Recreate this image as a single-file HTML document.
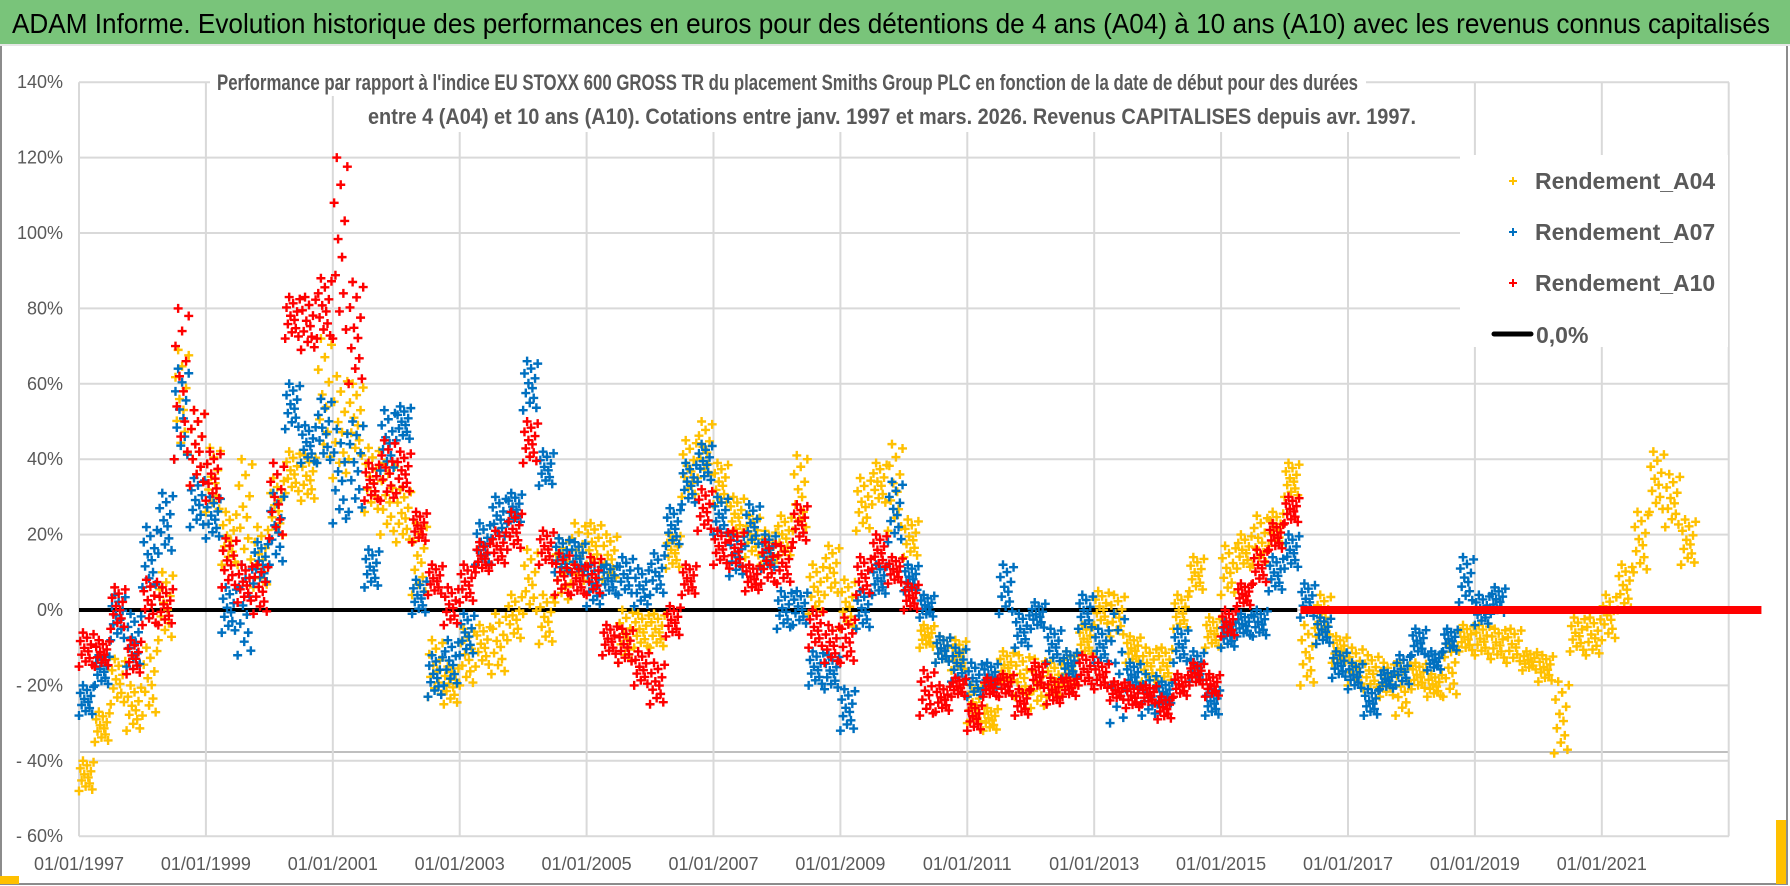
<!DOCTYPE html>
<html><head><meta charset="utf-8"><title>ADAM Informe</title>
<style>
html,body{margin:0;padding:0;background:#fff;}
svg{display:block;}
text{font-family:"Liberation Sans Narrow","Liberation Sans",sans-serif;}
</style></head>
<body>
<svg id="chart" width="1790" height="886" viewBox="0 0 1790 886" xmlns="http://www.w3.org/2000/svg">
  <rect x="0" y="0" width="1790" height="886" fill="#ffffff"/>
  <rect x="1" y="44" width="1786" height="840" fill="none" stroke="#8c8c8c" stroke-width="2"/>
  <rect x="0" y="0" width="1790" height="44" fill="#79c47a"/>
  <line x1="0" y1="45" x2="1790" y2="45" stroke="#e6e6e6" stroke-width="2"/>
  <text x="12" y="33" font-size="28" fill="#000" textLength="1758" lengthAdjust="spacingAndGlyphs">ADAM Informe. Evolution historique des performances en euros pour des détentions de 4 ans (A04) à 10 ans (A10) avec les revenus connus capitalisés</text>
  <rect x="0" y="876" width="19" height="8" fill="#ffc000"/>
  <rect x="1776" y="820" width="10" height="64" fill="#ffc000"/>
  <g id="grid"></g>
  <g id="yaxis"></g>
  <g id="xaxis"></g>
  <rect x="210" y="62" width="1156" height="34" fill="#fff"/>
  <rect x="360" y="96" width="1066" height="36" fill="#fff"/>
  <text x="217" y="90" font-size="22" font-weight="bold" fill="#595959" textLength="1141" lengthAdjust="spacingAndGlyphs">Performance par rapport à l'indice EU STOXX 600 GROSS TR  du placement Smiths Group PLC en fonction de la date de début pour des durées</text>
  <text x="368" y="124" font-size="22" font-weight="bold" fill="#595959" textLength="1048" lengthAdjust="spacingAndGlyphs">entre 4 (A04) et 10 ans (A10).  Cotations entre janv. 1997 et mars. 2026. Revenus CAPITALISES depuis avr. 1997.</text>
  <g id="zero"></g>
  <g id="marks"></g>
  <g id="legend">
    <rect x="1460" y="155" width="268" height="192" fill="#fff"/>
    <g>
      <path d="M1509 181h8M1513 177v8" stroke="#ffc000" stroke-width="2"/>
      <text x="1535" y="189" font-size="23" font-weight="bold" fill="#595959">Rendement_A04</text>
    </g>
    <g>
      <path d="M1509 232h8M1513 228v8" stroke="#0070c0" stroke-width="2"/>
      <text x="1535" y="240" font-size="23" font-weight="bold" fill="#595959">Rendement_A07</text>
    </g>
    <g>
      <path d="M1509 283h8M1513 279v8" stroke="#ff0000" stroke-width="2"/>
      <text x="1535" y="291" font-size="23" font-weight="bold" fill="#595959">Rendement_A10</text>
    </g>
    <g>
      <line x1="1494" y1="334" x2="1531" y2="334" stroke="#000" stroke-width="5" stroke-linecap="round"/>
      <text x="1536" y="343" font-size="23" font-weight="bold" fill="#595959">0,0%</text>
    </g>
  </g>
</svg>
<script>
const startYear = 1997;
const stepYear = 0.25;
const yTicks = [140,120,100,80,60,40,20,0,-20,-40,-60];
const yTickLabels = ["140%","120%","100%","80%","60%","40%","20%","0%","- 20%","- 40%","- 60%"];
const xTicks = [1997,1999,2001,2003,2005,2007,2009,2011,2013,2015,2017,2019,2021];
const xTickLabels = ["01/01/1997","01/01/1999","01/01/2001","01/01/2003","01/01/2005","01/01/2007","01/01/2009","01/01/2011","01/01/2013","01/01/2015","01/01/2017","01/01/2019","01/01/2021"];
const zeroLineRange = [1997, 2016.2];
const a04Hi = [-40,-27,-13,-20,-10,10,69,53,43,26,40,22,35,42,41,72,62,60,43,39,32,23,-8,-15,-5,-4,-1,4,16,4,19,23,23,20,0,-1,-1,20,45,50,39,30,25,21,25,41,12,17,8,35,39,44,24,-4,-7,-8,-20,-26,-11,-12,-13,-14,-11,-4,5,4,-7,-10,-10,4,14,-2,17,20,25,26,39,-4,4,-7,-10,-12,-14,-14,-14,-17,-9,-4,-4,-5,-5,-11,-12,-19,-2,-2,4,12,26,42,36,24];
const a04Lo = [-48,-35,-25,-32,-28,-8,40,33,26,12,12,6,19,31,29,39,35,40,26,20,18,4,-23,-25,-20,-15,-17,-8,-1,-9,2,7,12,8,-14,-10,-10,11,30,35,28,20,14,12,14,21,-1,4,-5,21,28,21,14,-10,-14,-16,-30,-32,-19,-23,-26,-23,-20,-12,-4,-7,-14,-19,-19,-5,5,-10,4,11,12,17,30,-20,-7,-14,-20,-21,-23,-28,-21,-23,-23,-11,-12,-13,-14,-16,-19,-38,-11,-12,-8,0,10,26,22,12];
const a07Hi = [-20,-12,4,-1,22,31,64,35,30,6,12,18,31,60,49,56,48,50,16,53,54,8,-12,-8,-1,23,30,31,66,42,19,18,12,12,14,11,15,27,39,44,30,20,28,20,5,5,-11,-12,-21,5,12,34,12,4,-7,-10,-14,-14,12,-1,2,-5,-11,4,-5,-1,-14,-17,-19,-5,-11,-21,-3,-1,0,14,20,7,-2,-11,-14,-21,-16,-12,-5,-11,-5,14,4,6];
const a07Lo = [-28,-20,-8,-15,6,15,40,22,19,-6,-12,7,12,48,39,39,23,26,6,37,45,-1,-23,-20,-12,12,19,23,53,33,10,10,1,4,4,1,4,17,28,34,20,9,17,11,-5,-4,-20,-21,-32,-5,4,18,5,-2,-14,-19,-23,-21,-1,-10,-5,-14,-18,-5,-14,-30,-21,-28,-25,-14,-19,-28,-10,-7,-7,5,11,-2,-9,-18,-21,-28,-21,-20,-12,-16,-11,2,-4,-1];
const a10Hi = [-6,-8,6,-8,8,6,80,53,42,19,12,12,39,83,83,88,120,87,39,45,42,26,12,6,12,18,21,26,50,21,15,12,14,-4,-5,-11,-14,1,12,32,21,21,12,18,17,28,0,-4,-2,14,20,14,7,-16,-20,-18,-25,-18,-17,-21,-14,-18,-18,-12,-14,-19,-20,-20,-23,-17,-14,-17,0,7,16,23,30,0,0,0,0,0,0,0,0,0,0,0,0,0,0,0,0,0,0,0,0,0,0,0,0,0,0,0,0,0];
const a10Lo = [-15,-15,-5,-17,-4,-4,40,33,29,6,2,-1,19,72,69,72,72,60,29,29,31,18,4,-4,2,10,12,16,39,12,4,4,4,-12,-14,-20,-25,-7,4,21,12,11,5,7,7,18,-10,-14,-14,4,11,7,0,-28,-27,-23,-32,-23,-23,-28,-21,-25,-23,-20,-21,-24,-26,-25,-29,-23,-20,-23,-7,1,7,16,23,0,0,0,0,0,0,0,0,0,0,0,0,0,0,0,0,0,0,0,0,0,0,0,0,0,0,0,0,0];

const NS = "http://www.w3.org/2000/svg";
const X0 = 79, PXY = 63.45, Y0 = 610, PXP = 3.77, XEND = 1729;
function xScale(yr){ return X0 + (yr - 1997) * PXY; }
function yScale(v){ return Y0 - v * PXP; }
function mk(tag, attrs, parent){ const e = document.createElementNS(NS, tag); for (const k in attrs) e.setAttribute(k, attrs[k]); parent.appendChild(e); return e; }

const grid = document.getElementById('grid');
yTicks.forEach((v, i) => {
  const l = mk('line', {x1: X0, x2: XEND, y1: yScale(v), y2: yScale(v), stroke: '#d9d9d9', 'stroke-width': 2}, grid);
  
  
});
const extra = mk('line', {x1: X0, x2: XEND, y1: 752, y2: 752, stroke: '#bfbfbf', 'stroke-width': 2}, grid);


xTicks.concat([2023]).forEach(yr => {
  const l = mk('line', {x1: xScale(yr), x2: xScale(yr), y1: yScale(140), y2: yScale(-60), stroke: '#d9d9d9', 'stroke-width': 2}, grid);
  
  
});

const yax = document.getElementById('yaxis');
yTicks.forEach((v, i) => {
  const t = mk('text', {x: 63, y: yScale(v) + 6, 'text-anchor': 'end', 'font-size': 18, fill: '#595959'}, yax);
  t.textContent = yTickLabels[i];
  
  
});
const xax = document.getElementById('xaxis');
xTicks.forEach((yr, i) => {
  const t = mk('text', {x: xScale(yr), y: 870, 'text-anchor': 'middle', 'font-size': 18, fill: '#595959'}, xax);
  t.textContent = xTickLabels[i];
  
  
});

const zl = mk('line', {x1: xScale(zeroLineRange[0]), x2: xScale(zeroLineRange[1]), y1: yScale(0), y2: yScale(0), stroke: '#000', 'stroke-width': 4}, document.getElementById('zero'));



const marks = document.getElementById('marks');
const fracs = [0, 0.75, 0.35, 1, 0.55, 0.15, 0.85, 0.45, 0.25, 0.65, 0.05, 0.95];
function drawSeries(hi, lo, color, name){
  const g = mk('g', {}, marks);
  
  
  let d = '';
  for (let i = 0; i < hi.length; i++){
    const yr = startYear + i * stepYear;
    if (hi[i] === 0 && lo[i] === 0){
      const r = mk('rect', {x: xScale(yr), y: yScale(0) - 4, width: stepYear * PXY + 1, height: 8, fill: color}, g);
      
      
      continue;
    }
    fracs.forEach((f, k) => {
      const cx = xScale(yr + k * stepYear / fracs.length);
      const cy = yScale(lo[i] + (hi[i] - lo[i]) * f);
      d += 'M' + (cx - 4.5) + ' ' + cy + 'h9M' + cx + ' ' + (cy - 4.5) + 'v9';
    });
  }
  const p = mk('path', {d: d, stroke: color, 'stroke-width': 2.4, fill: 'none'}, g);
  
  
}
drawSeries(a04Hi, a04Lo, '#ffc000', 'series-a04');
drawSeries(a07Hi, a07Lo, '#0070c0', 'series-a07');
drawSeries(a10Hi, a10Lo, '#ff0000', 'series-a10');
</script>
</body></html>
